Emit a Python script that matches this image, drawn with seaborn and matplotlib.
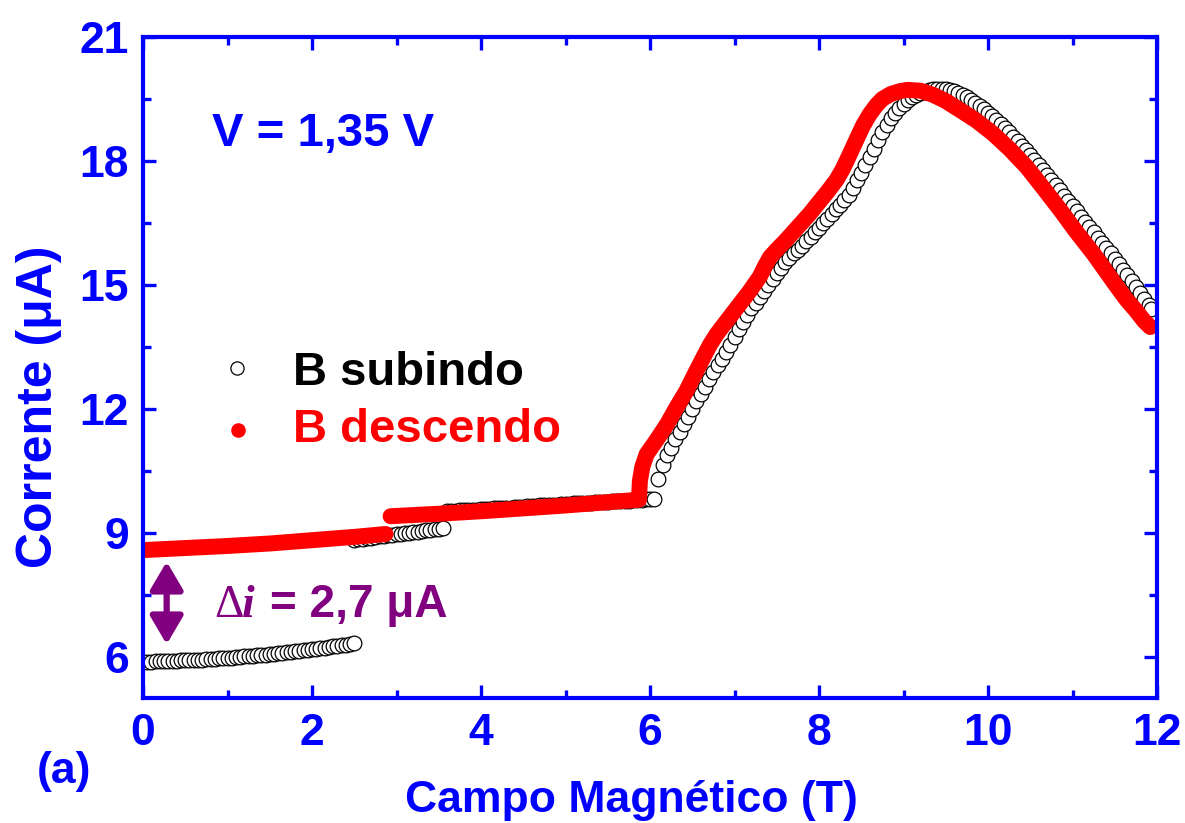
import numpy as np
import pandas as pd
import matplotlib
matplotlib.use("Agg")
import matplotlib.pyplot as plt
from matplotlib.ticker import MultipleLocator
import seaborn as sns

# ---------------- data ----------------
# B subindo (field sweeping up): three low-field branches + high-field curve
up_field_a = [0.00, 0.05, 0.10, 0.15, 0.20, 0.25, 0.30, 0.35, 0.40, 0.45,
              0.50, 0.55, 0.60, 0.65, 0.70, 0.75, 0.80, 0.85, 0.90, 0.95,
              1.00, 1.05, 1.10, 1.15, 1.20, 1.25, 1.30, 1.35, 1.40, 1.45,
              1.50, 1.55, 1.60, 1.65, 1.70, 1.75, 1.80, 1.85, 1.90, 1.95,
              2.00, 2.05, 2.10, 2.15, 2.20, 2.25, 2.30, 2.35, 2.40, 2.45, 2.50]
up_current_a = [5.88, 5.88, 5.88, 5.89, 5.89, 5.89, 5.90, 5.90, 5.90, 5.91,
                5.91, 5.92, 5.92, 5.93, 5.93, 5.94, 5.95, 5.95, 5.96, 5.97,
                5.98, 5.98, 5.99, 6.00, 6.01, 6.02, 6.02, 6.03, 6.04, 6.05,
                6.06, 6.07, 6.08, 6.10, 6.11, 6.12, 6.13, 6.14, 6.15, 6.17,
                6.18, 6.19, 6.21, 6.22, 6.23, 6.25, 6.26, 6.28, 6.29, 6.31, 6.32]

up_field_b = [2.50, 2.55, 2.60, 2.65, 2.70, 2.75, 2.80, 2.85, 2.90, 2.95,
              3.00, 3.05, 3.10, 3.15, 3.20, 3.25, 3.30, 3.35, 3.40, 3.45,
              3.50, 3.55]
up_current_b = [8.83, 8.84, 8.86, 8.87, 8.88, 8.90, 8.91, 8.92, 8.94, 8.95,
                8.97, 8.98, 8.99, 9.00, 9.02, 9.03, 9.04, 9.06, 9.07, 9.08,
                9.10, 9.11]

up_field_c = [3.60, 3.65, 3.70, 3.75, 3.80, 3.85, 3.90, 3.95, 4.00, 4.05,
              4.10, 4.15, 4.20, 4.25, 4.30, 4.35, 4.40, 4.45, 4.50, 4.55,
              4.60, 4.65, 4.70, 4.75, 4.80, 4.85, 4.90, 4.95, 5.00, 5.05,
              5.10, 5.15, 5.20, 5.25, 5.30, 5.35, 5.40, 5.45, 5.50, 5.55,
              5.60, 5.65, 5.70, 5.75, 5.80, 5.85, 5.90, 5.95, 6.00, 6.05]
up_current_c = [9.52, 9.53, 9.53, 9.54, 9.54, 9.55, 9.56, 9.56, 9.57, 9.58,
                9.58, 9.59, 9.59, 9.60, 9.61, 9.61, 9.62, 9.63, 9.63, 9.64,
                9.64, 9.65, 9.66, 9.66, 9.67, 9.68, 9.68, 9.69, 9.69, 9.70,
                9.71, 9.71, 9.72, 9.72, 9.73, 9.74, 9.74, 9.75, 9.75, 9.76,
                9.77, 9.77, 9.78, 9.78, 9.79, 9.80, 9.80, 9.81, 9.81, 9.82]

up_field_d = [6.10, 6.15, 6.20, 6.25, 6.30, 6.35, 6.40, 6.45, 6.50, 6.55,
              6.60, 6.65, 6.70, 6.75, 6.80, 6.85, 6.90, 6.95, 7.00, 7.05,
              7.10, 7.15, 7.20, 7.25, 7.30, 7.35, 7.40, 7.45, 7.50, 7.55,
              7.60, 7.65, 7.70, 7.75, 7.80, 7.85, 7.90, 7.95, 8.00, 8.05,
              8.10, 8.15, 8.20, 8.25, 8.30, 8.35, 8.40, 8.45, 8.50, 8.55,
              8.60, 8.65, 8.70, 8.75, 8.80, 8.85, 8.90, 8.95, 9.00, 9.05,
              9.10, 9.15, 9.20, 9.25, 9.30, 9.35, 9.40, 9.45, 9.50, 9.55,
              9.60, 9.65, 9.70, 9.75, 9.80, 9.85, 9.90, 9.95, 10.00, 10.05,
              10.10, 10.15, 10.20, 10.25, 10.30, 10.35, 10.40, 10.45, 10.50, 10.55,
              10.60, 10.65, 10.70, 10.75, 10.80, 10.85, 10.90, 10.95, 11.00, 11.05,
              11.10, 11.15, 11.20, 11.25, 11.30, 11.35, 11.40, 11.45, 11.50, 11.55,
              11.60, 11.65, 11.70, 11.75, 11.80, 11.85, 11.90, 11.93]
up_current_d = [10.31, 10.65, 10.87, 11.06, 11.26, 11.45, 11.63, 11.81, 12.00, 12.18,
                12.36, 12.54, 12.72, 12.89, 13.05, 13.21, 13.37, 13.55, 13.74, 13.92,
                14.10, 14.27, 14.43, 14.57, 14.71, 14.86, 15.00, 15.14, 15.28, 15.42,
                15.55, 15.66, 15.76, 15.85, 15.95, 16.06, 16.16, 16.27, 16.38, 16.49,
                16.60, 16.71, 16.83, 16.94, 17.05, 17.18, 17.35, 17.53, 17.72, 17.90,
                18.10, 18.30, 18.51, 18.71, 18.88, 19.03, 19.16, 19.29, 19.39, 19.47,
                19.54, 19.60, 19.64, 19.68, 19.71, 19.74, 19.75, 19.75, 19.74, 19.72,
                19.69, 19.65, 19.60, 19.55, 19.48, 19.41, 19.33, 19.25, 19.17, 19.08,
                18.99, 18.89, 18.79, 18.69, 18.59, 18.48, 18.37, 18.26, 18.14, 18.02,
                17.90, 17.78, 17.66, 17.54, 17.41, 17.29, 17.16, 17.03, 16.90, 16.78,
                16.65, 16.53, 16.40, 16.27, 16.14, 16.02, 15.89, 15.76, 15.63, 15.50,
                15.37, 15.24, 15.10, 14.95, 14.80, 14.65, 14.51, 14.42]

# B descendo (field sweeping down), listed in sweep order
down_field_hi = [11.92, 11.85, 11.75, 11.64, 11.50, 11.25, 11.05, 10.86, 10.66, 10.46,
                 10.26, 10.06, 9.86, 9.67, 9.50, 9.35, 9.20, 9.05, 8.96, 8.85,
                 8.75, 8.68, 8.60, 8.52, 8.44, 8.35, 8.28, 8.21, 8.10, 8.00,
                 7.89, 7.75, 7.60, 7.50, 7.42, 7.36, 7.30, 7.17, 7.03, 6.91,
                 6.79, 6.71, 6.63, 6.53, 6.43, 6.31, 6.20, 6.08, 5.96, 5.91,
                 5.88, 5.87, 5.50, 5.00, 4.50, 4.00, 3.50, 2.93]
down_current_hi = [13.98, 14.12, 14.38, 14.64, 15.03, 15.75, 16.27, 16.80, 17.33, 17.85,
                   18.28, 18.66, 18.98, 19.23, 19.45, 19.60, 19.70, 19.72, 19.69, 19.62,
                   19.50, 19.35, 19.13, 18.85, 18.50, 18.10, 17.80, 17.55, 17.25, 17.00,
                   16.72, 16.40, 16.06, 15.85, 15.67, 15.45, 15.20, 14.82, 14.45, 14.13,
                   13.81, 13.55, 13.24, 12.84, 12.43, 12.02, 11.62, 11.25, 10.90, 10.60,
                   10.25, 9.80, 9.74, 9.66, 9.59, 9.52, 9.46, 9.40]
down_field_lo = [2.87, 2.50, 2.00, 1.50, 1.00, 0.50, 0.00]
down_current_lo = [8.97, 8.90, 8.82, 8.74, 8.68, 8.63, 8.58]

# ---------------- style ----------------
BLUE = "#0000FF"
RED = "#FF0000"
PURPLE = "#800080"

sns.set_style("ticks")
plt.rcParams["font.family"] = ["Liberation Sans", "DejaVu Sans"]
plt.rcParams["font.weight"] = "bold"

W, H = 1185, 823
fig = plt.figure(figsize=(W / 100, H / 100), dpi=100)
ax = fig.add_axes([143 / W, 1 - 698 / H, (1157 - 143) / W, (698 - 37) / H])

# ---------------- marks ----------------
up = pd.DataFrame({
    "B": up_field_a + up_field_b + up_field_c + up_field_d,
    "I": up_current_a + up_current_b + up_current_c + up_current_d,
})
down = pd.DataFrame({
    "B": down_field_hi + down_field_lo,
    "I": down_current_hi + down_current_lo,
    "branch": ["alto"] * len(down_field_hi) + ["baixo"] * len(down_field_lo),
})

sns.scatterplot(data=up, x="B", y="I", ax=ax, marker="o", s=112,
                color="white", edgecolor="black", linewidth=0.9,
                zorder=2.1, legend=False)
sns.lineplot(data=down, x="B", y="I", units="branch", estimator=None,
             sort=False, ax=ax, color=RED, linewidth=11.5,
             solid_capstyle="round", solid_joinstyle="round",
             zorder=2.2, legend=False)

# ---------------- axes ----------------
ax.set_xlim(0, 12)
ax.set_ylim(5, 21)
ax.xaxis.set_major_locator(MultipleLocator(2))
ax.xaxis.set_minor_locator(MultipleLocator(1))
ax.yaxis.set_major_locator(MultipleLocator(3))
ax.yaxis.set_minor_locator(MultipleLocator(1.5))
ax.set_yticks([6, 9, 12, 15, 18, 21])

for sp in ax.spines.values():
    sp.set_color(BLUE)
    sp.set_linewidth(3)
    sp.set_visible(True)

ax.tick_params(which="both", direction="in", top=True, right=True,
               color=BLUE, width=2.4)
ax.tick_params(which="major", length=9.5)
ax.tick_params(which="minor", length=5.5)
ax.tick_params(axis="x", which="major", pad=11, labelsize=32, labelcolor=BLUE)
ax.tick_params(axis="y", which="major", pad=10, labelsize=32, labelcolor=BLUE)
for lab in ax.get_xticklabels() + ax.get_yticklabels():
    lab.set_fontweight("bold")

ax.set_xlabel("Campo Magnético (T)", fontsize=32, fontweight="bold", color=BLUE)
ax.set_ylabel("Corrente (μA)", fontsize=36, fontweight="bold", color=BLUE)
ax.xaxis.set_label_coords(0.482, -0.124)
ax.yaxis.set_label_coords(-0.080, 0.440)


def px(x, y):
    """Figure fraction from pixel position (origin top-left)."""
    return x / W, 1 - y / H


# annotations
fig.text(*px(212, 146), "V = 1,35 V", fontsize=34, fontweight="bold",
         color=BLUE, ha="left", va="baseline")
fig.text(*px(37, 783), "(a)", fontsize=32, fontweight="bold",
         color=BLUE, ha="left", va="baseline")

# legend
ax.plot([237 / W], [1 - 368 / H], transform=fig.transFigure, marker="o",
        markersize=9.5, markerfacecolor="white", markeredgecolor="black",
        markeredgewidth=0.9, linestyle="none", clip_on=False)
ax.plot([238 / W], [1 - 430 / H], transform=fig.transFigure, marker="o",
        markersize=9.5, markerfacecolor=RED, markeredgecolor=RED,
        linestyle="none", clip_on=False)
fig.text(*px(293, 385), "B subindo", fontsize=34, fontweight="bold",
         color="black", ha="left", va="baseline")
fig.text(*px(293, 442), "B descendo", fontsize=34, fontweight="bold",
         color=RED, ha="left", va="baseline")

# gap between the two branches at zero field
ax.annotate("", xy=(0.28, 8.30), xytext=(0.28, 6.30),
            arrowprops=dict(arrowstyle="<|-|>,head_length=0.85,head_width=0.5",
                            color=PURPLE, lw=4.5, mutation_scale=20,
                            joinstyle="round", capstyle="round",
                            shrinkA=0, shrinkB=0))
fig.text(*px(214, 617), "Δ", fontsize=33, fontweight="normal",
         family=["Liberation Serif", "DejaVu Serif"],
         color=PURPLE, ha="left", va="baseline")
fig.text(*px(242, 617), "i", fontsize=33, fontweight="bold", fontstyle="italic",
         family=["Liberation Serif", "DejaVu Serif"],
         color=PURPLE, ha="left", va="baseline")
fig.text(*px(270, 617), "= 2,7 μA", fontsize=33, fontweight="bold",
         color=PURPLE, ha="left", va="baseline")

fig.savefig("out.png", dpi=100)
